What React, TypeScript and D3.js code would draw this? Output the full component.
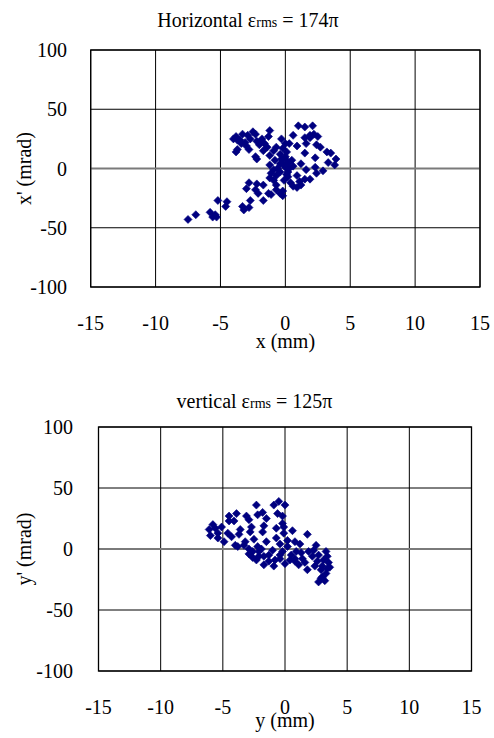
import React from "react";
import * as d3 from "d3";

// Horizontal phase space: x (mm), x' (mrad)
const horizontalX = [
  -7.5, -6.9, -5.8, -5.6, -5.4, -5.3, -5.2, -4.5, -4.6, -3.3, -3.2, -2.8, -2.7, -2.8, -3.0, -2.2, -2.3, -2.1, -1.7, -1.3,
  -1.1, -0.7, -0.4, -0.2, -0.2, -1.2, -0.9, -1.1, -0.7, -1.2, -0.1, 0.2, 0.4, 0.6, 0.9, 1.1, 1.2, 1.5, 1.9, 0.9,
  -0.4, -0.3, 0.0, 0.1, 0.2, -0.2, 0.0, 0.3, 0.5, 0.1, -0.6, -0.4, 0.2, -0.2, -0.3, -0.7, -0.9, -1.2, -0.8, 0.6,
  -4.0, -3.8, -3.5, -3.3, -3.1, -3.0, -2.7, -2.5, -2.3, -2.2, -2.0, -1.8, -1.6, -1.4, -1.2, -1.3, -3.8, -3.7, -2.8, -2.3,
  -2.2, -3.4, -1.7, -2.0, 1.0, 1.5, 2.1, 2.2, 1.9, 1.5, 0.6, 0.3, 0.9, 1.5, 1.6, 2.4, 2.7, 3.2, 3.5, 3.9,
  3.8, 3.3, 2.9, 2.3, 2.3, 1.6, 1.2, 2.4, 1.9, 2.5, -3.7, -2.9, -0.4, 0.0, -0.9, 0.1, -0.7, -1.7,
];
const horizontalXp = [
  -43, -39, -37, -41, -39, -41, -27, -28, -32, -32, -35, -33, -27, -12, -17, -13, -18, -21, -27, -21,
  -22, -18, -21, -23, -19, -8, -10, -4, -6, 3, -10, -7, -12, -15, -16, -11, -14, -9, -9, -6,
  12, 8, 10, 7, 4, 4, 1, 0, 7, 14, 0, -3, -3, 17, 25, 18, 15, 11, 7, 2,
  25, 27, 24, 29, 22, 19, 25, 31, 29, 23, 20, 25, 21, 18, 32, 27, 14, 16, 16, 10,
  8, 21, 15, 22, 36, 35, 36, 29, 28, 26, 28, 21, 19, 13, 21, 20, 18, 14, 13, 8,
  3, 5, -2, 9, 1, -1, 4, -4, 26, 27, 24, 28, 4, 21, -1, -5, -14, -14,
];

// Vertical phase space: y (mm), y' (mrad)
const verticalY = [
  -6.1, -5.8, -5.6, -6.0, -5.4, -5.4, -5.1, -4.9, -4.5, -4.5, -3.9, -4.1, -4.6, -4.3, -4.0, -3.8, -3.6, -3.7, -3.1, -2.9,
  -2.7, -2.8, -3.2, -2.9, -2.9, -2.5, -2.3, -2.2, -1.8, -1.5, -1.7, -1.8, -2.1, -2.3, -1.9, -1.5, -1.7, -1.3, -1.0, -0.9,
  -0.7, -0.7, -0.6, -0.9, -0.5, 0.0, -0.2, -0.2, -0.1, -0.4, -0.2, 0.0, -0.4, 0.2, 0.6, 0.8, 0.5, 0.9, 1.2, 1.4,
  1.8, 1.1, 1.8, 1.9, 2.2, 2.5, 2.6, 2.7, 3.0, 3.3, 3.1, 3.4, 3.3, 3.0, 2.7, 3.5, 2.9, 2.4, 1.6, 0.8,
  0.4, -1.3, -2.1, -2.6, -3.3, 0.8, 1.3, 2.3, 3.4, 3.2, 2.9, 3.6, -0.1, 0.2, -2.6, -0.4, -0.8, -1.7, -2.2,
];
const verticalYp = [
  16, 20, 17, 11, 13, 9, 18, 6, 27, 23, 29, 23, 13, 10, 3, 2, 16, 12, 27, 24,
  18, 14, 6, 0, -4, 8, 36, 28, 30, 25, 19, 14, -2, -9, 0, 6, -13, -5, -1, -14,
  9, 17, 29, 36, 39, 36, 27, 21, 13, 4, -2, -12, -8, 2, 15, 6, -5, -2, 4, -8,
  12, -13, -17, -2, -6, 3, -10, -5, -14, -2, -9, -16, -20, -23, -27, -11, -17, -14, -11, -10,
  -9, -10, -6, -2, 3, -8, -3, -1, -6, -26, -24, -15, 18, 7, -7, -5, -9, -6, 2,
];

const xTicks = [-15, -10, -5, 0, 5, 10, 15];
const yTicks = [-100, -50, 0, 50, 100];

const FONT = "'Liberation Serif', 'Times New Roman', Times, serif";
const NAVY = "#000080";

type PanelProps = {
  xs: number[];
  ys: number[];
  left: number;
  right: number;
  top: number;
  bottom: number;
  titleMain: string;
  titleValue: string;
  titleX: number;
  titleY: number;
  xLabel: string;
  yLabel: string;
  yTickRight: number;
  xTickBaseline: number;
  xLabelBaseline: number;
  yLabelX: number;
};

function Panel(p: PanelProps) {
  const x = d3.scaleLinear().domain([-15, 15]).range([p.left, p.right]);
  const y = d3.scaleLinear().domain([-100, 100]).range([p.bottom, p.top]);
  const r = 4;
  const diamond = (cx: number, cy: number) =>
    `M${cx},${cy - r}L${cx + r},${cy}L${cx},${cy + r}L${cx - r},${cy}Z`;
  return (
    <g fontFamily={FONT}>
      <text x={p.titleX} y={p.titleY} textAnchor="middle" fontSize={20} fill="#000">
        <tspan>{p.titleMain} ε</tspan>
        <tspan fontSize={14}>rms</tspan>
        <tspan> = {p.titleValue}</tspan>
      </text>
      {xTicks.map((t) => (
        <line key={"vx" + t} x1={x(t)} x2={x(t)} y1={p.top} y2={p.bottom} stroke="#000" strokeWidth={1} />
      ))}
      {yTicks.map((t) =>
        t === 0 ? (
          <line key={"hy" + t} x1={p.left} x2={p.right} y1={y(t)} y2={y(t)} stroke="#7a7a7a" strokeWidth={2} />
        ) : (
          <line key={"hy" + t} x1={p.left} x2={p.right} y1={y(t)} y2={y(t)} stroke="#000" strokeWidth={1} />
        )
      )}
      <rect x={p.left} y={p.top} width={p.right - p.left} height={p.bottom - p.top} fill="none" stroke="#000" strokeWidth={1.3} />
      {p.xs.map((v, i) => (
        <path key={i} d={diamond(x(v), y(p.ys[i]))} fill={NAVY} stroke={NAVY} strokeWidth={0.6} />
      ))}
      {yTicks.map((t) => (
        <text key={"yl" + t} x={p.yTickRight} y={y(t) + 7} textAnchor="end" fontSize={20} fill="#000">
          {t}
        </text>
      ))}
      {xTicks.map((t) => (
        <text key={"xl" + t} x={x(t)} y={p.xTickBaseline} textAnchor="middle" fontSize={20} fill="#000">
          {t}
        </text>
      ))}
      <text x={(p.left + p.right) / 2} y={p.xLabelBaseline} textAnchor="middle" fontSize={20} fill="#000">
        {p.xLabel}
      </text>
      <text
        transform={`translate(${p.yLabelX},${(p.top + p.bottom) / 2}) rotate(-90)`}
        textAnchor="middle"
        fontSize={20}
        fill="#000"
      >
        {p.yLabel}
      </text>
    </g>
  );
}

export default function App() {
  return (
    <svg
      width={494}
      height={738}
      style={{ position: "absolute", left: 0, top: 0, background: "#fff" }}
    >
      <rect x={0} y={0} width={494} height={738} fill="#fff" />
      <Panel
        xs={horizontalX}
        ys={horizontalXp}
        left={90.7}
        right={480}
        top={50}
        bottom={287}
        titleMain="Horizontal"
        titleValue="174π"
        titleX={248}
        titleY={27}
        xLabel="x (mm)"
        yLabel="x' (mrad)"
        yTickRight={67}
        xTickBaseline={330}
        xLabelBaseline={348}
        yLabelX={31}
      />
      <Panel
        xs={verticalY}
        ys={verticalYp}
        left={98.5}
        right={471.5}
        top={427}
        bottom={671}
        titleMain="vertical"
        titleValue="125π"
        titleX={254.5}
        titleY={408}
        xLabel="y (mm)"
        yLabel="y' (mrad)"
        yTickRight={73}
        xTickBaseline={714}
        xLabelBaseline={727}
        yLabelX={31}
      />
    </svg>
  );
}
